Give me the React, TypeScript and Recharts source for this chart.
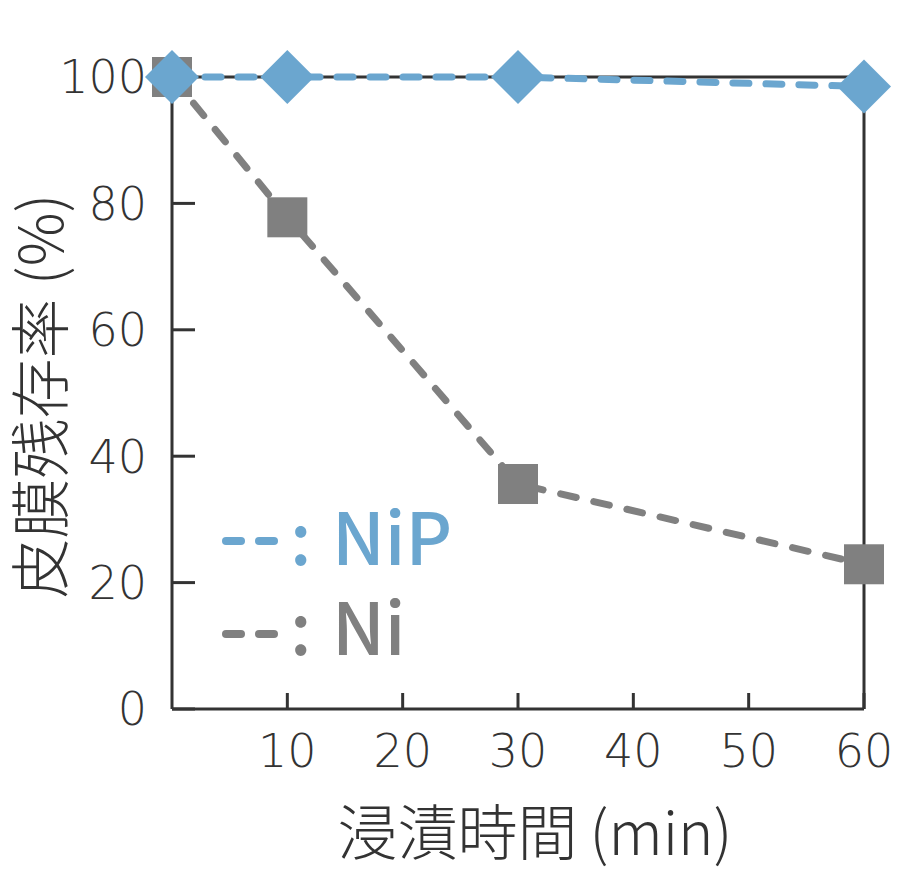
import React from "react";
import {
  LineChart,
  Line,
  XAxis,
  YAxis,
  ReferenceLine,
} from "recharts";

// immersion time (min)
const times = [0, 10, 30, 60];
// film remaining ratio (%)
const nipValues = [100, 100, 100, 98.5];
const niValues = [100, 77.8, 35.6, 22.9];

const xTicks = [10, 20, 30, 40, 50, 60];
const yTicks = [0, 20, 40, 60, 80, 100];

const data = times.map((t, i) => ({ t, nip: nipValues[i], ni: niValues[i] }));

const BLUE = "#6ba6cf";
const GRAY = "#808080";
const INK = "#333333";
const FONT = "'Noto Sans CJK JP', 'Noto Sans', sans-serif";
const NUM_FONT = "'DejaVu Sans', sans-serif";

const Square = (props: any) => {
  const { cx, cy, index } = props;
  const s = 40;
  return <rect key={`sq-${index}`} x={cx - s / 2} y={cy - s / 2} width={s} height={s} fill={GRAY} />;
};

const Diamond = (props: any) => {
  const { cx, cy, index } = props;
  const r = 27;
  return (
    <polygon
      key={`dm-${index}`}
      points={`${cx},${cy - r} ${cx + r},${cy} ${cx},${cy + r} ${cx - r},${cy}`}
      fill={BLUE}
    />
  );
};

const tickStyle = { fontSize: 46, fill: INK, fontFamily: NUM_FONT, fontWeight: 200 };

export default function App() {
  return (
    <div style={{ position: "absolute", left: 0, top: 0, width: 900, height: 889, background: "#fff" }}>
      <LineChart
        width={900}
        height={889}
        data={data}
        margin={{ top: 77, right: 36, bottom: 0, left: 0 }}
      >
        <XAxis
          dataKey="t"
          type="number"
          domain={[0, 60]}
          ticks={xTicks}
          height={180}
          stroke={INK}
          strokeWidth={3}
          tickSize={-16}
          tickMargin={41}
          tick={tickStyle}
        />
        <YAxis
          type="number"
          domain={[0, 100]}
          ticks={yTicks}
          width={172}
          stroke={INK}
          strokeWidth={3}
          tickSize={-23}
          tickMargin={48}
          tick={tickStyle}
        />
        <ReferenceLine y={100} stroke={INK} strokeWidth={3} />
        <ReferenceLine x={60} stroke={INK} strokeWidth={3} />
        <Line
          dataKey="ni"
          stroke="none"
          dot={Square}
          activeDot={false}
          isAnimationActive={false}
        />
        <Line
          dataKey="nip"
          stroke={BLUE}
          strokeWidth={7}
          strokeDasharray="16 17"
          strokeLinecap="round"
          dot={Diamond}
          activeDot={false}
          isAnimationActive={false}
        />
        <Line
          dataKey="ni"
          stroke={GRAY}
          strokeWidth={7}
          strokeDasharray="16 18"
          strokeLinecap="round"
          dot={false}
          activeDot={false}
          isAnimationActive={false}
        />
      </LineChart>
      <svg
        width={900}
        height={889}
        style={{ position: "absolute", left: 0, top: 0, pointerEvents: "none" }}
      >
        <text
          x={36}
          y={396}
          transform="rotate(-90 36 396)"
          textAnchor="middle"
          dominantBaseline="central"
          fontSize={60}
          fontWeight={300}
          fill={INK}
          fontFamily={FONT}
        >
          皮膜残存率 (%)
        </text>
        <text x={535} y={855} textAnchor="middle" fontSize={60} fontWeight={300} fill={INK} fontFamily={FONT}>
          浸漬時間<tspan dx={12}>(min)</tspan>
        </text>
        {/* legend */}
        <line x1={226} y1={541} x2={241} y2={541} stroke={BLUE} strokeWidth={8} strokeLinecap="round" />
        <line x1={259} y1={541} x2={274} y2={541} stroke={BLUE} strokeWidth={8} strokeLinecap="round" />
        <text x={290} y={565} fontSize={72} fontWeight={500} fill={BLUE} fontFamily={FONT}>
          :<tspan x={332}>NiP</tspan>
        </text>
        <line x1={226} y1={634} x2={241} y2={634} stroke={GRAY} strokeWidth={8} strokeLinecap="round" />
        <line x1={259} y1={634} x2={274} y2={634} stroke={GRAY} strokeWidth={8} strokeLinecap="round" />
        <text x={290} y={655} fontSize={72} fontWeight={500} fill={GRAY} fontFamily={FONT}>
          :<tspan x={332}>Ni</tspan>
        </text>
      </svg>
    </div>
  );
}
